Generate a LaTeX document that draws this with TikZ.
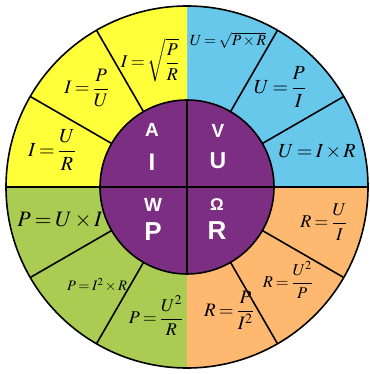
\documentclass[tikz,border=0pt]{standalone}
\usepackage{amsmath}
\usepackage{mathptmx}
\usepackage[no-math]{fontspec}
\newfontfamily\letterfont{Liberation Sans}
\usepackage{tikz}

\definecolor{ampyellow}{RGB}{255,255,58}
\definecolor{voltblue}{RGB}{104,200,236}
\definecolor{wattgreen}{RGB}{170,204,82}
\definecolor{ohmorange}{RGB}{255,184,112}
\definecolor{wheelpurple}{RGB}{124,46,130}

\begin{document}
\thickmuskip=3mu plus 2mu
\medmuskip=2mu plus 1mu
\begin{tikzpicture}[x=1pt, y=1pt, line width=1.6pt,
    fml/.style={inner sep=0pt, font=\fontsize{#1}{#1}\selectfont},
    letter/.style={inner sep=0pt, text=white, font=\letterfont\bfseries\fontsize{#1}{#1}\selectfont}]
    \useasboundingbox (-187,-187) rectangle (182,187);

    % coloured quarters of the ring
    \foreach \a/\c in {0/voltblue, 90/ampyellow, 180/wattgreen, 270/ohmorange}
        \fill[\c] (0,0) -- (\a:181pt) arc[start angle=\a, delta angle=90, radius=181pt] -- cycle;
    \foreach \a in {30,60,120,150,210,240,300,330}
        \draw (\a:87pt) -- (\a:181pt);
    \draw (-181,0) -- (181,0);
    \draw (0,0) circle[radius=181pt];

    % purple hub
    \fill[wheelpurple] (0,0) circle[radius=87pt];
    \draw (0,0) circle[radius=87pt];
    \draw (0,-87) -- (0,87);
    \draw (-87,0) -- (87,0);

    \node[letter=19] (unitA) at (-35,57) {A};
    \node[letter=24] (symI) at (-35,25) {I};
    \node[letter=19] (unitV) at (31,56) {V};
    \node[letter=23] (symU) at (31,26) {U};
    \node[letter=19] (unitW) at (-34,-18) {W};
    \node[letter=26] (symP) at (-34,-45) {P};
    \node[letter=17] (unitO) at (30,-18) {\char"03A9};
    \node[letter=26] (symR) at (30,-44) {R};

    % current
    \node[fml=18] (i1) at (-37,127) {$\displaystyle I=\sqrt{\frac{P}{R}}$};
    \node[fml=19] (i2) at (-100,99) {$\displaystyle I=\frac{P}{U}$};
    \node[fml=20] (i3) at (-135,37) {$\displaystyle I=\frac{U}{R}$};

    % voltage
    \node[fml=15.5] (u1) at (41,147) {$U=\sqrt{P\times R}$};
    \node[fml=20] (u2) at (93,100) {$\displaystyle U=\frac{P}{I}$};
    \node[fml=20] (u3) at (130,35) {$U=I\times R$};

    % power
    \node[fml=22] (p1) at (-127,-33) {$P=U\times I$};
    \node[fml=14.5] (p2) at (-90,-98) {$P=I^2\times R$};
    \node[fml=18] (p3) at (-31,-129) {$\displaystyle P=\frac{U^2}{R}$};

    % resistance
    \node[fml=18] (r1) at (137,-35) {$\displaystyle R=\frac{U}{I}$};
    \node[fml=16.5] (r2) at (101,-93) {$\displaystyle R=\frac{U^2}{P}$};
    \node[fml=19] (r3) at (42,-123) {$\displaystyle R=\frac{P}{I^2}$};
\end{tikzpicture}
\end{document}
